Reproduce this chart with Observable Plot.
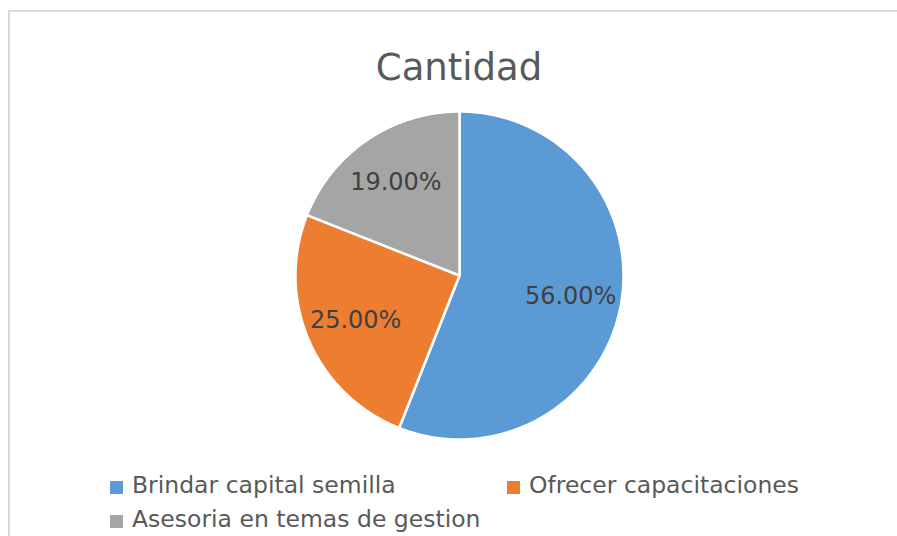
<!DOCTYPE html>
<html>
<head>
<meta charset="utf-8">
<script src="https://cdn.jsdelivr.net/npm/d3@7"></script>
<script src="https://cdn.jsdelivr.net/npm/@observablehq/plot@0.6"></script>
<style>
  body { margin: 0; background: #fff; font-family: "DejaVu Sans", sans-serif; }
  #wrap { position: relative; width: 897px; height: 536px; overflow: hidden; background: #fff; }
  #frame { position: absolute; left: 8px; top: 10px; width: 1000px; height: 700px;
           border-left: 2px solid #d9d9d9; border-top: 2px solid #d9d9d9; }
  #title { position: absolute; left: 0; width: 918px; top: 48.7px; text-align: center;
           font-size: 37px; line-height: 1; color: #595959; white-space: nowrap; }
  #chart { position: absolute; left: 0; top: 105px; }
  .leg { position: absolute; font-size: 23.5px; line-height: 1; color: #595959; white-space: nowrap; }
  .sw { position: absolute; width: 13px; height: 13px; }
</style>
</head>
<body>
<div id="wrap">
  <div id="frame"></div>
  <div id="title"></div>
  <div id="chart"></div>
  <div id="legend"></div>
</div>
<script>
const title = "Cantidad";
const categories = ["Brindar capital semilla", "Ofrecer capacitaciones", "Asesoria en temas de gestion"];
const values = [56, 25, 19];
const valueLabels = ["56.00%", "25.00%", "19.00%"];
const colors = ["#5B9BD5", "#ED7D31", "#A5A5A5"];

document.getElementById("title").textContent = title;

const pie = d3.pie().sort(null).value(d => d)(values);

// build slice polygons from pie angles (0 = top, clockwise)
const slices = pie.map((p, i) => {
  const pts = [{x: 0, y: 0}];
  const n = Math.max(2, Math.ceil((p.endAngle - p.startAngle) / 0.01));
  for (let k = 0; k <= n; k++) {
    const a = p.startAngle + (p.endAngle - p.startAngle) * k / n;
    pts.push({x: Math.sin(a), y: Math.cos(a)});
  }
  pts.push({x: 0, y: 0});
  return pts;
});

const labelR = 0.69;
const labelData = pie.map((p, i) => {
  const a = (p.startAngle + p.endAngle) / 2;
  return {x: labelR * Math.sin(a), y: labelR * Math.cos(a), text: valueLabels[i]};
});

const W = 897, H = 340;
const plot = Plot.plot({
  width: W,
  height: H,
  marginLeft: 295,
  marginRight: 274,
  marginTop: 6,
  marginBottom: 6,
  x: {domain: [-1, 1], axis: null},
  y: {domain: [-1, 1], axis: null},
  style: {fontFamily: "'DejaVu Sans', sans-serif", background: "transparent"},
  marks: [
    ...slices.map((pts, i) => Plot.line(pts, {
      x: "x", y: "y", fill: colors[i], stroke: "white", strokeWidth: 2.5,
      strokeLinejoin: "round", curve: "linear"
    })),
    Plot.text(labelData, {
      x: "x", y: "y", text: "text", fontSize: 24, fill: "#404040",
      fontFamily: "'DejaVu Sans', sans-serif"
    })
  ]
});
document.getElementById("chart").appendChild(plot);

// legend
const legendPos = [
  {sx: 110, sy: 481, tx: 132, ty: 474.3},
  {sx: 507, sy: 481, tx: 529, ty: 474.3},
  {sx: 110, sy: 515, tx: 132, ty: 508.3}
];
const leg = document.getElementById("legend");
categories.forEach((c, i) => {
  const sw = document.createElement("div");
  sw.className = "sw";
  sw.style.left = legendPos[i].sx + "px";
  sw.style.top = legendPos[i].sy + "px";
  sw.style.background = colors[i];
  leg.appendChild(sw);
  const t = document.createElement("div");
  t.className = "leg";
  t.style.left = legendPos[i].tx + "px";
  t.style.top = legendPos[i].ty + "px";
  t.textContent = c;
  leg.appendChild(t);
});
</script>
</body>
</html>
